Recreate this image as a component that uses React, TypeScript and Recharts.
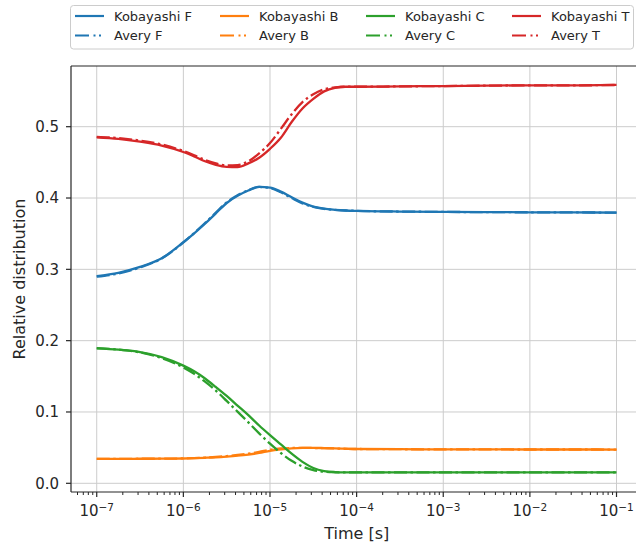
import React from 'react';
import { LineChart, Line, XAxis, YAxis, CartesianGrid } from 'recharts';

// time points (s), quarter/eighth decades
const TIME_S = [
  1e-7, 1.778e-7, 3.162e-7, 5.623e-7, 1e-6, 1.334e-6, 1.778e-6, 2.371e-6, 3.162e-6,
  4.217e-6, 5.623e-6, 7.499e-6, 1e-5, 1.334e-5, 1.778e-5, 2.371e-5, 3.162e-5, 4.217e-5,
  5.623e-5, 7.499e-5, 1e-4, 3.162e-4, 1e-3, 3.162e-3, 1e-2, 3.162e-2, 1e-1,
];

const KOBAYASHI_F = [
  0.2905, 0.2952, 0.3035, 0.3155, 0.338, 0.3505, 0.364, 0.3785, 0.393, 0.403, 0.4105, 0.4155,
  0.4145, 0.409, 0.401, 0.3935, 0.388, 0.385, 0.3835, 0.3825, 0.382, 0.381, 0.3805, 0.3802,
  0.38, 0.3798, 0.3795,
];
const AVERY_F = [
  0.2898, 0.2942, 0.3027, 0.3152, 0.3377, 0.351, 0.365, 0.3795, 0.394, 0.404, 0.411, 0.4155,
  0.414, 0.408, 0.4, 0.3925, 0.3875, 0.3848, 0.3834, 0.3825, 0.382, 0.381, 0.3805, 0.3802,
  0.38, 0.3798, 0.3795,
];
const KOBAYASHI_B = [
  0.0343, 0.0343, 0.0344, 0.0345, 0.0348, 0.0352, 0.0358, 0.0365, 0.0375, 0.0387, 0.0403, 0.0425,
  0.0455, 0.0475, 0.049, 0.0497, 0.0497, 0.0494, 0.049, 0.0485, 0.0481, 0.0478, 0.0476, 0.0475,
  0.0474, 0.0474, 0.0473,
];
const AVERY_B = [
  0.0343, 0.0343, 0.0344, 0.0345, 0.0349, 0.0354, 0.0361, 0.037, 0.0382, 0.0397, 0.0415, 0.044,
  0.047, 0.0488, 0.0495, 0.0497, 0.0495, 0.0492, 0.0488, 0.0484, 0.0481, 0.0478, 0.0476, 0.0475,
  0.0474, 0.0474, 0.0473,
];
const KOBAYASHI_C = [
  0.1892, 0.1873, 0.184, 0.177, 0.165, 0.157, 0.147, 0.135, 0.1225, 0.109, 0.0955, 0.081,
  0.0675, 0.0545, 0.0415, 0.03, 0.0215, 0.0172, 0.0158, 0.0154, 0.0153, 0.0152, 0.0152, 0.0152,
  0.0152, 0.0152, 0.0152,
];
const AVERY_C = [
  0.1895, 0.1875, 0.1835, 0.1755, 0.1625, 0.1535, 0.1425, 0.13, 0.1155, 0.1005, 0.0855, 0.07,
  0.0555, 0.0425, 0.0315, 0.0235, 0.0185, 0.0162, 0.0155, 0.0153, 0.0153, 0.0152, 0.0152, 0.0152,
  0.0152, 0.0152, 0.0152,
];
const KOBAYASHI_T = [
  0.4851, 0.483, 0.479, 0.4735, 0.4645, 0.4583, 0.4515, 0.4465, 0.4437, 0.4433, 0.4485, 0.4565,
  0.469, 0.4845, 0.5065, 0.5255, 0.539, 0.5495, 0.5545, 0.556, 0.556, 0.5565, 0.557, 0.5575,
  0.558, 0.558, 0.5585,
];
const AVERY_T = [
  0.4858, 0.484, 0.4805, 0.475, 0.466, 0.46, 0.4535, 0.4485, 0.4458, 0.4462, 0.4515, 0.4625,
  0.477, 0.497, 0.5175, 0.5345, 0.5455, 0.5525, 0.555, 0.556, 0.556, 0.5565, 0.557, 0.5575,
  0.558, 0.558, 0.5585,
];

const Y_TICKS = [0, 0.1, 0.2, 0.3, 0.4, 0.5];
const X_MAJOR = [1e-8, 1e-7, 1e-6, 1e-5, 1e-4, 1e-3, 1e-2, 1e-1];
const MINOR_MULTS = [2, 3, 4, 5, 6, 7, 8, 9];

const X_DOMAIN: [number, number] = [10 ** -7.297, 10 ** -0.7];
const Y_DOMAIN: [number, number] = [-0.0122, 0.5851];

const inDomain = (v: number) => v >= X_DOMAIN[0] && v <= X_DOMAIN[1];
const majorTicks = X_MAJOR.filter(inDomain);
const minorTicks = X_MAJOR.flatMap((d) => MINOR_MULTS.map((m) => m * d)).filter(inDomain);
const allXTicks = [...majorTicks, ...minorTicks].sort((a, b) => a - b);

const SERIES = [
  { key: 'kf', name: 'Kobayashi F', values: KOBAYASHI_F, color: '#1f77b4', dashed: false },
  { key: 'af', name: 'Avery F', values: AVERY_F, color: '#1f77b4', dashed: true },
  { key: 'kb', name: 'Kobayashi B', values: KOBAYASHI_B, color: '#ff7f0e', dashed: false },
  { key: 'ab', name: 'Avery B', values: AVERY_B, color: '#ff7f0e', dashed: true },
  { key: 'kc', name: 'Kobayashi C', values: KOBAYASHI_C, color: '#2ca02c', dashed: false },
  { key: 'ac', name: 'Avery C', values: AVERY_C, color: '#2ca02c', dashed: true },
  { key: 'kt', name: 'Kobayashi T', values: KOBAYASHI_T, color: '#d62728', dashed: false },
  { key: 'at', name: 'Avery T', values: AVERY_T, color: '#d62728', dashed: true },
];

const data = TIME_S.map((t, i) => {
  const row: Record<string, number> = { t };
  SERIES.forEach((s) => (row[s.key] = s.values[i]));
  return row;
});

const FONT = '"DejaVu Sans", sans-serif';
const INK = '#262626';
const DASH = '13 3.5 2.5 3.5';

function LogTick(props: any) {
  const { x, y, payload } = props;
  const exp = Math.log10(payload.value);
  const isMajor = Math.abs(exp - Math.round(exp)) < 1e-6;
  if (!isMajor) {
    return <line x1={x} x2={x} y1={y} y2={y + 3} stroke={INK} strokeWidth={1} />;
  }
  return (
    <g>
      <line x1={x} x2={x} y1={y} y2={y + 5} stroke={INK} strokeWidth={1.2} />
      <text x={x} y={y + 24} textAnchor="middle" fontFamily={FONT} fontSize={15} fill={INK}>
        <tspan>10</tspan>
        <tspan dy={-5} fontSize={10.5}>{'\u2212' + Math.abs(Math.round(exp))}</tspan>
      </text>
    </g>
  );
}

function LegendBox() {
  const cols = [75, 220, 366, 512];
  const rows = [16, 35.5];
  return (
    <g>
      <rect x={70.5} y={5.5} width={563} height={43.5} rx={3} fill="#fff" fillOpacity={0.8} stroke="#cccccc" />
      {SERIES.map((s, i) => {
        const cx = cols[Math.floor(i / 2)];
        const cy = rows[i % 2];
        return (
          <g key={s.key}>
            <line
              x1={cx}
              x2={cx + 29}
              y1={cy}
              y2={cy}
              stroke={s.color}
              strokeWidth={2.2}
              strokeDasharray={s.dashed ? '14 4.5 2 3.5 2 40' : undefined}
            />
            <text x={cx + 39} y={cy + 4.6} fontFamily={FONT} fontSize={13} fill={INK}>
              {s.name}
            </text>
          </g>
        );
      })}
    </g>
  );
}

export default function App() {
  return (
    <div style={{ position: 'absolute', left: 0, top: 0, width: 636, height: 548, overflow: 'hidden', background: '#fff' }}>
      <LineChart width={660} height={548} data={data} margin={{ top: 65, right: 17.5, bottom: 0, left: 0 }}>
        <CartesianGrid stroke="#cccccc" strokeWidth={1} verticalValues={majorTicks} horizontalValues={Y_TICKS} />
        {/* top spine */}
        <XAxis
          xAxisId="top"
          orientation="top"
          dataKey="t"
          type="number"
          scale="log"
          domain={X_DOMAIN}
          allowDataOverflow
          height={1}
          tick={false}
          tickLine={false}
          axisLine={{ stroke: INK, strokeWidth: 1.2 }}
        />
        <XAxis
          dataKey="t"
          type="number"
          scale="log"
          domain={X_DOMAIN}
          allowDataOverflow
          ticks={allXTicks}
          interval={0}
          height={56}
          tickSize={0}
          tickMargin={0}
          tickLine={false}
          tick={<LogTick />}
          axisLine={{ stroke: INK, strokeWidth: 1.2 }}
        />
        <YAxis
          type="number"
          domain={Y_DOMAIN}
          allowDataOverflow
          ticks={Y_TICKS}
          interval={0}
          width={71}
          tickSize={5}
          tickMargin={7}
          tickFormatter={(v: number) => v.toFixed(1)}
          tick={{ fontSize: 15, fill: INK, fontFamily: FONT }}
          tickLine={{ stroke: INK, strokeWidth: 1.2 }}
          axisLine={{ stroke: INK, strokeWidth: 1.2 }}
        />
        {SERIES.map((s) => (
          <Line
            key={s.key}
            dataKey={s.key}
            name={s.name}
            type="monotone"
            stroke={s.color}
            strokeWidth={2.3}
            strokeDasharray={s.dashed ? DASH : undefined}
            dot={false}
            activeDot={false}
            isAnimationActive={false}
          />
        ))}
      </LineChart>
      <svg width={636} height={548} style={{ position: 'absolute', left: 0, top: 0, pointerEvents: 'none' }}>
        <LegendBox />
        <text x={356.75} y={539} textAnchor="middle" fontFamily={FONT} fontSize={16} fill={INK}>
          Time [s]
        </text>
        <text
          transform="translate(25, 279) rotate(-90)"
          textAnchor="middle"
          fontFamily={FONT}
          fontSize={16}
          fill={INK}
        >
          Relative distribution
        </text>
      </svg>
    </div>
  );
}
